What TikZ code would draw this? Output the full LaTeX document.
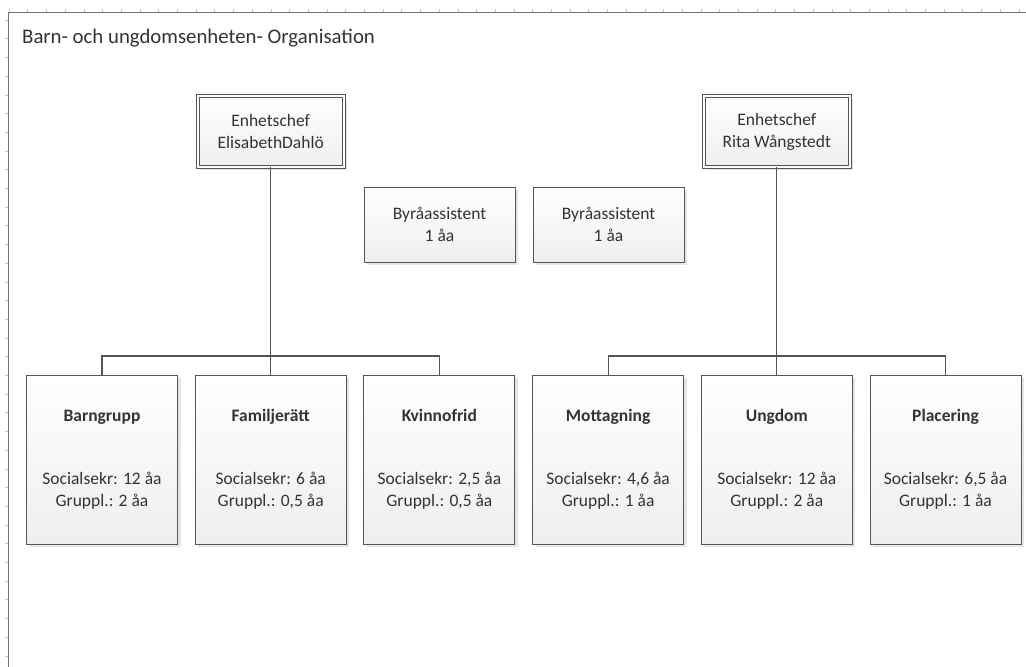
\documentclass[tikz,border=0pt]{standalone}
\usepackage{fontspec}
\setmainfont{Carlito}
\usepackage{xcolor}
\usetikzlibrary{shadows}
\definecolor{linegray}{HTML}{555555}
\definecolor{textgray}{HTML}{333333}
\definecolor{tickgray}{HTML}{C4C4C4}
\definecolor{framegray}{HTML}{707070}

\begin{document}
\begin{tikzpicture}[x=1pt,y=-1pt,  box/.style={draw=linegray, line width=0.9pt, top color=white, bottom color=gray!13, text=textgray, align=center, inner sep=0pt, font=\fontsize{17.5}{22}\selectfont, drop shadow={shadow xshift=3pt, shadow yshift=-3pt, fill=gray!45, opacity=0.45}},  chef/.style={box, double=white, double distance=2pt, line width=0.8pt, minimum width=146pt, minimum height=71pt},  assist/.style={box, minimum width=151pt, minimum height=75pt},  unit/.style={box, minimum width=151pt, minimum height=169pt},  edge/.style={draw=linegray, line width=1.1pt},  tick/.style={draw=tickgray, line width=0.6pt},  frame/.style={draw=framegray, line width=1.6pt},  lab/.style={text=textgray, font=\fontsize{20.8}{25}\selectfont, inner sep=0pt}]
\useasboundingbox (0,0) rectangle (1026,667);
%%%%%%%%%%%%%%%%%%%%%%%%%%%%%%%%%%%%%%%%%%%%%%%%%%
% page frame and ruler ticks
%%%%%%%%%%%%%%%%%%%%%%%%%%%%%%%%%%%%%%%%%%%%%%%%%%
\foreach \i in {0,...,54} \draw[tick] ({9+18.7*\i},8.5) -- ++(0,4);
\foreach \i in {0,...,34} \draw[tick] (4.5,{20+18.7*\i}) -- ++(4,0);
\draw[frame] (1026,12.5) -- (8.5,12.5) -- (8.5,667);
\node[lab, anchor=base west] (titel) at (22,43) {Barn- och ungdomsenheten- Organisation};
%%%%%%%%%%%%%%%%%%%%%%%%%%%%%%%%%%%%%%%%%%%%%%%%%%
% chefs and assistants
%%%%%%%%%%%%%%%%%%%%%%%%%%%%%%%%%%%%%%%%%%%%%%%%%%
\node[chef] (chefE) at (270.7,131.5) {Enhetschef\\ElisabethDahlö};
\node[chef] (chefR) at (776.8,131.5) {Enhetschef\\Rita Wångstedt};
\node[assist] (byra1) at (439.5,224.5) {Byråassistent\\1 åa};
\node[assist] (byra2) at (608.5,224.5) {Byråassistent\\1 åa};
%%%%%%%%%%%%%%%%%%%%%%%%%%%%%%%%%%%%%%%%%%%%%%%%%%
% units
%%%%%%%%%%%%%%%%%%%%%%%%%%%%%%%%%%%%%%%%%%%%%%%%%%
\node[unit] (barn) at (102,459.5) {\textbf{Barngrupp}\\[41pt]Socialsekr: 12 åa\\Gruppl.: 2 åa};
\node[unit] (famil) at (270.7,459.5) {\textbf{Familjerätt}\\[41pt]Socialsekr: 6 åa\\Gruppl.: 0,5 åa};
\node[unit] (kvinno) at (439.4,459.5) {\textbf{Kvinnofrid}\\[41pt]Socialsekr: 2,5 åa\\Gruppl.: 0,5 åa};
\node[unit] (mott) at (608.1,459.5) {\textbf{Mottagning}\\[41pt]Socialsekr: 4,6 åa\\Gruppl.: 1 åa};
\node[unit] (ungdom) at (776.8,459.5) {\textbf{Ungdom}\\[41pt]Socialsekr: 12 åa\\Gruppl.: 2 åa};
\node[unit] (plac) at (945.5,459.5) {\textbf{Placering}\\[41pt]Socialsekr: 6,5 åa\\Gruppl.: 1 åa};
%%%%%%%%%%%%%%%%%%%%%%%%%%%%%%%%%%%%%%%%%%%%%%%%%%
% lines
%%%%%%%%%%%%%%%%%%%%%%%%%%%%%%%%%%%%%%%%%%%%%%%%%%
\coordinate (busE) at (270.7,356);
\coordinate (busR) at (776.8,356);

\draw[edge] (chefE)--(famil);
\draw[edge] (busE) -| (barn);
\draw[edge] (busE) -| (kvinno);

\draw[edge] (chefR)--(ungdom);
\draw[edge] (busR) -| (mott);
\draw[edge] (busR) -| (plac);
\end{tikzpicture}
\end{document}
